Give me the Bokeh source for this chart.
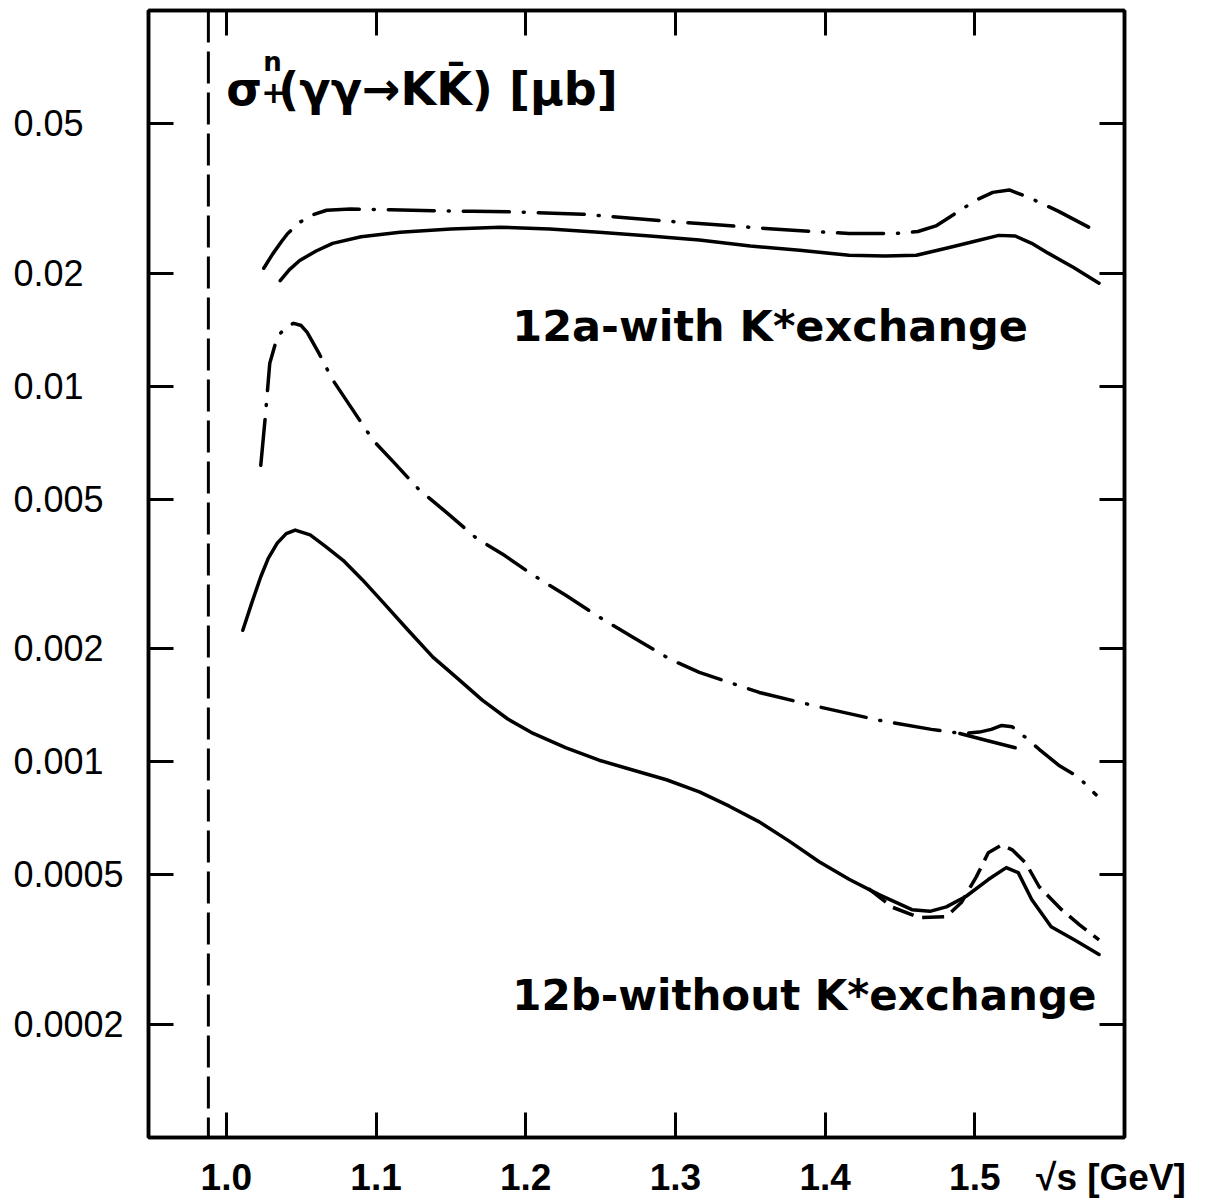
import numpy as np
from bokeh.plotting import figure
from bokeh.models import FixedTicker, LinearAxis, LogAxis, Label, Span
from bokeh.embed import file_html
from bokeh.resources import INLINE

# ---------------- data ----------------
x_ticks = [1.0, 1.1, 1.2, 1.3, 1.4, 1.5]
x_tick_labels = ["1.0", "1.1", "1.2", "1.3", "1.4", "1.5"]
x_title = "√s [GeV]"
x_title_pos = 1.591          # where the x-axis title sits on the tick-label line
y_ticks = [0.0002, 0.0005, 0.001, 0.002, 0.005, 0.01, 0.02, 0.05]
y_tick_labels = ["0.0002", "0.0005", "0.001", "0.002", "0.005", "0.01", "0.02", "0.05"]

threshold_gev = 0.988  # 2 m_K, vertical dashed line

# 12a - with K* exchange, dash-dot
a_dd_x = [1.025, 1.031, 1.037, 1.041, 1.049, 1.058, 1.067, 1.083, 1.110, 1.138, 1.165,
          1.191, 1.238, 1.289, 1.316, 1.360, 1.400, 1.416, 1.447, 1.462, 1.474, 1.488,
          1.501, 1.512, 1.523, 1.536, 1.556, 1.576]
a_dd_y = [0.0206, 0.0225, 0.0243, 0.0255, 0.0273, 0.0286, 0.0294, 0.0296, 0.0295, 0.0293, 0.0292,
          0.0291, 0.0287, 0.0276, 0.0271, 0.0263, 0.0257, 0.0255, 0.0255, 0.0258, 0.0267, 0.0290,
          0.0313, 0.0328, 0.0333, 0.0318, 0.0292, 0.0265]

# 12a - with K* exchange, solid
a_s_x = [1.036, 1.042, 1.049, 1.060, 1.071, 1.090, 1.116, 1.150, 1.183, 1.216, 1.249, 1.283,
         1.316, 1.350, 1.383, 1.416, 1.440, 1.461, 1.483, 1.500, 1.516, 1.527, 1.538, 1.549,
         1.566, 1.583]
a_s_y = [0.0191, 0.0204, 0.0216, 0.0229, 0.0240, 0.0250, 0.0257, 0.0262, 0.0265, 0.0262, 0.0257,
         0.0251, 0.0245, 0.0236, 0.0230, 0.0223, 0.0222, 0.0223, 0.0234, 0.0243, 0.0252, 0.0251,
         0.0240, 0.0226, 0.0207, 0.0188]

# 12b - without K* exchange, dash-dot
b_dd_x = [1.023, 1.026, 1.029, 1.034, 1.040, 1.045, 1.050, 1.054, 1.062, 1.071, 1.084, 1.098,
          1.113, 1.129, 1.148, 1.167, 1.186, 1.205, 1.227, 1.249, 1.273, 1.297, 1.316, 1.356,
          1.396, 1.436, 1.471, 1.491, 1.503, 1.511, 1.518, 1.525, 1.534, 1.543, 1.556, 1.569,
          1.581]
b_dd_y = [0.00616, 0.00827, 0.0115, 0.0135, 0.0144, 0.0147, 0.0145, 0.0139, 0.0122, 0.0104,
          0.0087, 0.00718, 0.0062, 0.00529, 0.00458, 0.00394, 0.00354, 0.00314, 0.00277, 0.00243,
          0.00213, 0.00187, 0.00173, 0.00153, 0.00140, 0.00129, 0.00122, 0.00119, 0.00120,
          0.00122, 0.00125, 0.00124, 0.00116, 0.00108, 0.00098, 0.000912, 0.000817]

# 12b - short solid piece under the f2' bump
b_seg_x = [1.490, 1.508, 1.527]
b_seg_y = [0.00119, 0.00114, 0.00109]

# 12b - without K* exchange, solid
b_s_x = [1.011, 1.017, 1.023, 1.028, 1.034, 1.040, 1.046, 1.056, 1.066, 1.078, 1.091, 1.105,
         1.121, 1.138, 1.155, 1.171, 1.188, 1.205, 1.227, 1.249, 1.272, 1.294, 1.316, 1.336,
         1.356, 1.376, 1.396, 1.416, 1.436, 1.458, 1.470, 1.481, 1.494, 1.509, 1.521, 1.529,
         1.538, 1.551, 1.567, 1.583]
b_s_y = [0.00224, 0.00265, 0.00311, 0.00348, 0.00382, 0.00405, 0.00414, 0.00402, 0.00375, 0.00344,
         0.00305, 0.00265, 0.00225, 0.00190, 0.00166, 0.00146, 0.00130, 0.00119, 0.00109, 0.00101,
         0.00095, 0.000896, 0.000832, 0.000762, 0.000692, 0.000615, 0.000542, 0.000487, 0.000443,
         0.000404, 0.000400, 0.000411, 0.000438, 0.000486, 0.000523, 0.000507, 0.000430,
         0.000364, 0.000335, 0.000307]

# 12b - dashed variant near the f2'(1525)
b_d_x = [1.429, 1.445, 1.463, 1.481, 1.491, 1.501, 1.509, 1.518, 1.525, 1.534, 1.543, 1.558,
         1.570, 1.583]
b_d_y = [0.000460, 0.000410, 0.000385, 0.000387, 0.000422, 0.000494, 0.000573, 0.000601,
         0.000583, 0.000538, 0.000465, 0.000404, 0.000368, 0.000336]

# ---------------- figure ----------------
p = figure(width=1225, height=1202, x_range=(0.948, 1.6), y_range=(1e-4, 0.1),
           y_axis_type="log", output_backend="svg", toolbar_location=None,
           min_border_left=148, min_border_right=101, min_border_top=10,
           min_border_bottom=65)
p.grid.visible = False
p.background_fill_color = "white"
p.border_fill_color = "white"
p.outline_line_color = "black"
p.outline_line_width = 3.5

LW = 3.5
TICK_FONT = "Liberation Sans"


def tick_only_axis(ax):
    """Axis that draws inward tick marks (as minor ticks) and no labels."""
    ax.axis_line_width = LW
    ax.axis_line_color = "black"
    ax.major_tick_line_color = None
    ax.major_tick_in = 0
    ax.major_tick_out = 0
    ax.minor_tick_in = 25
    ax.minor_tick_out = 0
    ax.minor_tick_line_width = 3
    ax.minor_tick_line_color = "black"
    ax.major_label_standoff = 0


# bottom axis: tick marks at x_ticks (minor), labels at x_ticks + axis title
xb = p.xaxis[0]
xb_major = x_ticks + [x_title_pos]
xb.ticker = FixedTicker(ticks=xb_major, minor_ticks=x_ticks)
xb.major_label_overrides = {t: s for t, s in zip(xb_major, x_tick_labels + [x_title])}
tick_only_axis(xb)
xb.major_label_text_font = TICK_FONT
xb.major_label_text_font_size = "37px"
xb.major_label_text_font_style = "bold"
xb.major_label_text_color = "black"
xb.major_label_standoff = 19

# left axis: labels padded with figure spaces so they line up at the left
yl = p.yaxis[0]
yl.ticker = FixedTicker(ticks=y_ticks, minor_ticks=y_ticks)
maxlen = max(len(s) for s in y_tick_labels)
yl.major_label_overrides = {t: s + "\u2007" * (maxlen - len(s))
                            for t, s in zip(y_ticks, y_tick_labels)}
tick_only_axis(yl)
yl.major_label_text_font = TICK_FONT
yl.major_label_text_font_size = "36px"
yl.major_label_text_color = "black"
yl.major_label_standoff = 25

xt = LinearAxis(ticker=FixedTicker(ticks=[], minor_ticks=x_ticks))
tick_only_axis(xt)
p.add_layout(xt, "above")

yr = LogAxis(ticker=FixedTicker(ticks=[], minor_ticks=y_ticks))
tick_only_axis(yr)
p.add_layout(yr, "right")

# threshold line
p.add_layout(Span(location=threshold_gev, dimension="height", line_color="black",
                  line_width=3, line_dash="32 9"))

DASHDOT = "46 14 1 14"
p.line(a_dd_x, a_dd_y, line_color="black", line_width=LW, line_dash=DASHDOT, line_cap="round",
       line_join="round")
p.line(a_s_x, a_s_y, line_color="black", line_width=LW, line_join="round", line_cap="round")
p.line(b_dd_x, b_dd_y, line_color="black", line_width=LW, line_dash=DASHDOT, line_cap="round",
       line_join="round")
p.line(b_seg_x, b_seg_y, line_color="black", line_width=LW, line_cap="round")
p.line(b_s_x, b_s_y, line_color="black", line_width=LW, line_join="round", line_cap="round")
p.line(b_d_x, b_d_y, line_color="black", line_width=LW, line_dash="22 9", line_join="round")

# ---------------- texts ----------------
TXT_FONT = "DejaVu Sans"
SHIFT = 16  # px, lifts the text baseline to match the picture


def txt(x, y, s, size, dx=0, dy=0):
    p.add_layout(Label(x=x, y=y, x_offset=dx, y_offset=SHIFT + dy, text=s,
                       text_font=TXT_FONT, text_font_style="bold", text_font_size=size,
                       text_color="black", text_baseline="alphabetic"))


title_x, title_y = 1.0, 0.056
txt(title_x, title_y, "σ", "46px")
txt(title_x, title_y, "n", "26px", dx=37, dy=27)
txt(title_x, title_y, "+", "30px", dx=35, dy=-3)
txt(title_x, title_y, "(γγ→KK\u0304) [μb]", "46px", dx=52)

txt(1.191, 0.0131, "12a-with K*exchange", "43px")
txt(1.191, 0.000216, "12b-without K*exchange", "42px")

open("out.html", "w").write(file_html(p, INLINE))
